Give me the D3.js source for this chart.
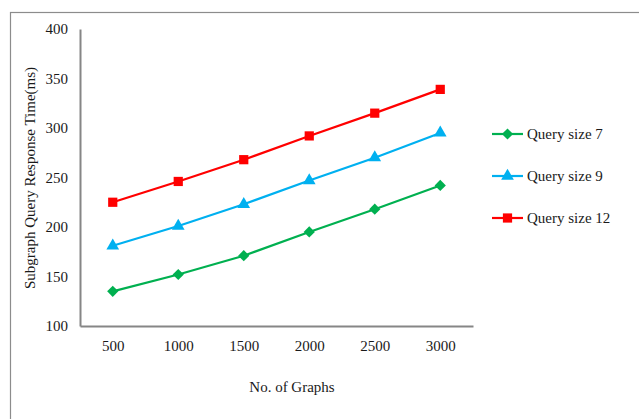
<!DOCTYPE html>
<html>
<head>
<meta charset="utf-8">
<script src="https://cdn.jsdelivr.net/npm/d3@7"></script>
<style>
  body { margin: 0; background: #fff; }
  svg { display: block; font-family: "Liberation Serif", "Times New Roman", serif; }
</style>
</head>
<body>
<svg id="chart" width="639" height="419"></svg>
<script>
const graphs = ["500", "1000", "1500", "2000", "2500", "3000"];
const querySize7 = [135, 152, 171, 195, 218, 242];
const querySize9 = [181, 201, 223, 247, 270, 295];
const querySize12 = [225, 246, 268, 292, 315, 339];
const yTicks = [100, 150, 200, 250, 300, 350, 400];
const seriesNames = ["Query size 7", "Query size 9", "Query size 12"];

const series = [
  { name: seriesNames[0], values: querySize7, color: "#00B050", symbol: d3.symbolDiamond2, size: 80 },
  { name: seriesNames[1], values: querySize9, color: "#00B0F0", symbol: d3.symbolTriangle, size: 70 },
  { name: seriesNames[2], values: querySize12, color: "#FF0000", symbol: d3.symbolSquare, size: 85 },
];

const svg = d3.select("#chart");
const axisColor = "#868686";
const textColor = "#1a1a1a";
const fontSize = 15;

// outer frame (only top and left edges visible)
svg.append("rect")
  .attr("x", 10.5).attr("y", 12.5)
  .attr("width", 700).attr("height", 500)
  .attr("fill", "none")
  .attr("stroke", "#8c8c8c")
  .attr("stroke-width", 1.2);

const x = d3.scalePoint().domain(graphs).range([80, 473]).padding(0.5);
const y = d3.scaleLinear().domain([100, 400]).range([326, 29]);

// y axis
const gy = svg.append("g")
  .attr("transform", "translate(80,0)")
  .call(d3.axisLeft(y).tickValues(yTicks).tickSize(0).tickPadding(12));
gy.select(".domain").attr("stroke", axisColor).attr("stroke-width", 2);
gy.selectAll("text")
  .attr("font-family", "Liberation Serif, Times New Roman, serif")
  .attr("font-size", fontSize).attr("fill", textColor);

// x axis
const gx = svg.append("g")
  .attr("transform", "translate(0,326)")
  .call(d3.axisBottom(x).tickSize(0).tickPadding(14));
gx.select(".domain").attr("stroke", axisColor).attr("stroke-width", 2);
gx.selectAll("text")
  .attr("font-family", "Liberation Serif, Times New Roman, serif")
  .attr("font-size", fontSize).attr("fill", textColor);

// axis titles
svg.append("text")
  .attr("x", 292).attr("y", 392)
  .attr("text-anchor", "middle")
  .attr("font-size", fontSize).attr("fill", textColor)
  .text("No. of Graphs");

svg.append("text")
  .attr("transform", "translate(35,178) rotate(-90)")
  .attr("text-anchor", "middle")
  .attr("font-size", fontSize).attr("fill", textColor)
  .text("Subgraph Query Response Time(ms)");

const line = d3.line()
  .x((d, i) => x(graphs[i]))
  .y(d => y(d));

series.forEach(s => {
  svg.append("path")
    .datum(s.values)
    .attr("d", line)
    .attr("fill", "none")
    .attr("stroke", s.color)
    .attr("stroke-width", 2.2);

  svg.selectAll(null)
    .data(s.values)
    .enter()
    .append("path")
    .attr("d", d3.symbol().type(s.symbol).size(s.size))
    .attr("transform", (d, i) => `translate(${x(graphs[i])},${y(d)})`)
    .attr("fill", s.color);
});

// legend
const legend = svg.append("g");
series.forEach((s, i) => {
  const ly = 134 + i * 42;
  legend.append("line")
    .attr("x1", 492).attr("x2", 523)
    .attr("y1", ly).attr("y2", ly)
    .attr("stroke", s.color).attr("stroke-width", 2.2);
  legend.append("path")
    .attr("d", d3.symbol().type(s.symbol).size(s.size))
    .attr("transform", `translate(507.5,${ly})`)
    .attr("fill", s.color);
  legend.append("text")
    .attr("x", 527).attr("y", ly + 5)
    .attr("font-size", fontSize).attr("fill", textColor)
    .text(s.name);
});
</script>
</body>
</html>
